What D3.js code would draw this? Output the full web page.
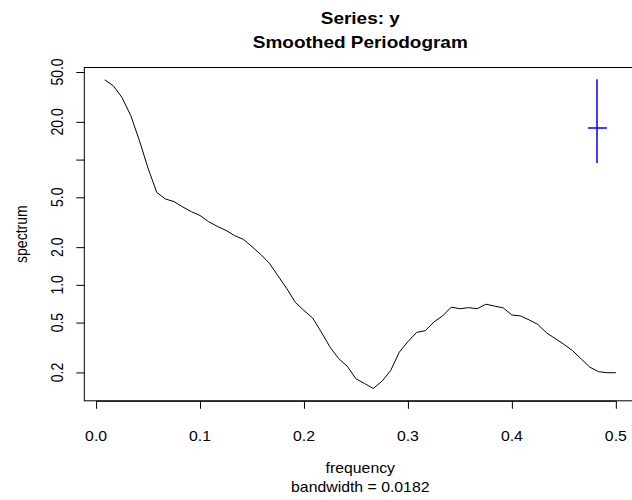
<!DOCTYPE html>
<html>
<head>
<meta charset="utf-8">
<script src="https://cdn.jsdelivr.net/npm/d3@7"></script>
<style>
  html, body { margin: 0; padding: 0; background: #fff; }
  svg { display: block; font-family: "Liberation Sans", Arial, sans-serif; }
</style>
</head>
<body>
<svg id="chart" width="632" height="500"></svg>
<script>
// Smoothed periodogram of y: frequencies k/120, k = 1..60
const nObs = 120;
const harmonics = d3.range(1, 61);
const spectrum = [
  43.3, 38.8, 31.2, 22.5, 14.2, 8.53, 5.47, 4.85, 4.62, 4.19,
  3.84, 3.58, 3.19, 2.93, 2.72, 2.47, 2.31, 2.02, 1.75, 1.49,
  1.18, 0.938, 0.724, 0.625, 0.544, 0.420, 0.319, 0.258, 0.224, 0.178,
  0.163, 0.149, 0.170, 0.2065, 0.290, 0.3526, 0.417, 0.431, 0.506, 0.565,
  0.664, 0.645, 0.658, 0.645, 0.701, 0.677, 0.655, 0.575, 0.565, 0.525,
  0.483, 0.414, 0.3727, 0.3355, 0.2987, 0.2564, 0.2203, 0.2028, 0.199, 0.199
];
const frequency = harmonics.map(k => k / nObs);

// Confidence bar: position, centre, limits and bandwidth
const bandwidth = 0.0182;
const ciFreq = 0.4823;
const ciCentre = 18.0;
const ciLower = 9.38;
const ciUpper = 43.7;

const xTicks = [0, 0.1, 0.2, 0.3, 0.4, 0.5];
const xTickLabels = ["0.0", "0.1", "0.2", "0.3", "0.4", "0.5"];
const yTicks = [50, 20, 10, 5, 2, 1, 0.5, 0.2];
const yTickLabels = ["50.0", "20.0", "", "5.0", "2.0", "1.0", "0.5", "0.2"];

const titleLines = ["Series: y", "Smoothed Periodogram"];
const xLabel = "frequency";
const subLabel = "bandwidth = " + bandwidth;
const yLabel = "spectrum";

const plot = { left: 84.3, top: 67.5, bottom: 400.8 };
const baseFont = 14;
const stretch = 1.13;   // glyphs are drawn slightly wide

// Axis extents padded by 4% on each side
const xr = d3.extent(frequency);
const xpad = 0.04 * (xr[1] - xr[0]);
const xDomain = [xr[0] - xpad, xr[1] + xpad];
const pxPerUnit = 1039.5;
const plotRight = plot.left + (xDomain[1] - xDomain[0]) * pxPerUnit;

const lr = d3.extent(spectrum).map(Math.log10);
const lpad = 0.04 * (lr[1] - lr[0]);
const yDomain = [Math.pow(10, lr[0] - lpad), Math.pow(10, lr[1] + lpad)];

const x = d3.scaleLinear().domain(xDomain).range([plot.left, plotRight]);
const y = d3.scaleLog().domain(yDomain).range([plot.bottom, plot.top]);

const svg = d3.select("#chart");

// Horizontal text, widened about its anchor
function hText(px, py, str, size, bold) {
  return svg.append("text")
    .attr("transform", `translate(${px},${py}) scale(${stretch},1)`)
    .attr("text-anchor", "middle").attr("dominant-baseline", "central")
    .attr("font-size", size).attr("font-weight", bold ? "bold" : null)
    .attr("fill", "#000").text(str);
}

// Plot frame
svg.append("rect")
  .attr("x", plot.left).attr("y", plot.top)
  .attr("width", plotRight - plot.left).attr("height", plot.bottom - plot.top)
  .attr("fill", "none").attr("stroke", "#000").attr("stroke-width", 1);

// Spectrum line
svg.append("path")
  .datum(frequency.map((f, i) => [f, spectrum[i]]))
  .attr("fill", "none")
  .attr("stroke", "#000")
  .attr("stroke-width", 1)
  .attr("stroke-linejoin", "round")
  .attr("d", d3.line().x(d => x(d[0])).y(d => y(d[1])));

// Bandwidth / confidence cross
const ciX = Math.round(x(ciFreq));
const ciY = Math.round(y(ciCentre));
const ci = svg.append("g");
ci.append("line")
  .attr("x1", ciX).attr("x2", ciX)
  .attr("y1", y(ciUpper)).attr("y2", y(ciLower))
  .attr("stroke", "#0000ff").attr("stroke-width", 1.5);
ci.append("line")
  .attr("x1", x(ciFreq - bandwidth / 2)).attr("x2", x(ciFreq + bandwidth / 2))
  .attr("y1", ciY).attr("y2", ciY)
  .attr("stroke", "#0000ff").attr("stroke-width", 1.5);

// X axis
const xAxis = d3.axisBottom(x)
  .tickValues(xTicks)
  .tickFormat(() => "")
  .tickSize(8);
const gx = svg.append("g")
  .attr("transform", `translate(0,${plot.bottom})`)
  .call(xAxis);
gx.select(".domain").remove();
gx.selectAll(".tick text").remove();
gx.append("line")
  .attr("x1", x(xTicks[0])).attr("x2", x(xTicks[xTicks.length - 1]))
  .attr("y1", 0.5).attr("y2", 0.5).attr("stroke", "#000");
xTicks.forEach((t, i) => hText(x(t), plot.bottom + 35, xTickLabels[i], baseFont));

// Y axis (labels vertical, reading upward)
const yAxis = d3.axisLeft(y)
  .tickValues(yTicks)
  .tickFormat(() => "")
  .tickSize(8);
const gy = svg.append("g")
  .attr("transform", `translate(${plot.left},0)`)
  .call(yAxis);
gy.select(".domain").remove();
gy.selectAll(".tick text").remove();
yTicks.forEach((t, i) => {
  svg.append("text")
    .attr("transform", `translate(${plot.left - 27},${y(t)}) scale(${stretch},1) rotate(-90)`)
    .attr("text-anchor", "middle").attr("dominant-baseline", "central")
    .attr("font-size", baseFont).attr("fill", "#000")
    .text(yTickLabels[i]);
});

// Titles
const cx = (plot.left + plotRight) / 2;
hText(cx, 18, titleLines[0], baseFont * 1.2, true);
hText(cx, 42, titleLines[1], baseFont * 1.2, true);

// Axis titles
hText(cx, 468, xLabel, baseFont);
hText(cx, 487, subLabel, baseFont);
svg.append("text")
  .attr("transform", `translate(21,${(plot.top + plot.bottom) / 2}) scale(${stretch},1) rotate(-90)`)
  .attr("text-anchor", "middle").attr("dominant-baseline", "central")
  .attr("font-size", baseFont).attr("fill", "#000").text(yLabel);
</script>
</body>
</html>
